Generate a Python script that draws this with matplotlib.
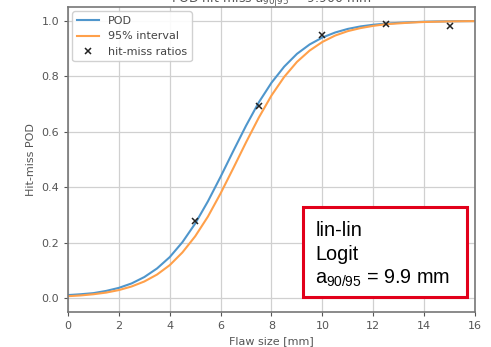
import matplotlib
matplotlib.use("Agg")
import matplotlib.pyplot as plt
from matplotlib.patches import Rectangle

# ── Datos ─────────────────────────────────────────────────────────────────────
flaw_size = [0.0, 0.5, 1.0, 1.5, 2.0, 2.5, 3.0, 3.5, 4.0, 4.5, 5.0, 5.5, 6.0,
             6.5, 7.0, 7.5, 8.0, 8.5, 9.0, 9.5, 10.0, 10.5, 11.0, 11.5, 12.0,
             12.5, 13.0, 13.5, 14.0, 14.5, 15.0, 15.5, 16.0]
pod = [0.011, 0.014, 0.018, 0.026, 0.037, 0.053, 0.076, 0.107, 0.148, 0.202,
       0.269, 0.349, 0.438, 0.531, 0.622, 0.706, 0.777, 0.835, 0.881, 0.915,
       0.940, 0.958, 0.971, 0.980, 0.986, 0.990, 0.993, 0.995, 0.997, 0.998,
       0.9985, 0.999, 0.9993]
pod_95 = [0.007, 0.0097, 0.014, 0.020, 0.029, 0.042, 0.060, 0.085, 0.119,
          0.165, 0.223, 0.294, 0.378, 0.469, 0.562, 0.651, 0.731, 0.798, 0.852,
          0.893, 0.924, 0.947, 0.963, 0.974, 0.982, 0.988, 0.991, 0.994, 0.996,
          0.997, 0.998, 0.9987, 0.9991]
ratio_size = [5.0, 7.5, 10.0, 12.5, 15.0]
ratio_val = [0.278, 0.693, 0.949, 0.989, 0.982]

box_lines = ["lin-lin", "Logit", r"$\mathregular{a_{90/95}}$ = 9.9 mm"]

# ── Figura ────────────────────────────────────────────────────────────────────
fig = plt.figure(figsize=(4.91, 3.47), dpi=100)
ax = fig.add_axes([0.1385, 0.1009, 0.8289, 0.8789])

ax.plot(flaw_size, pod, color="#4f96cc", linewidth=1.5, label="POD")
ax.plot(flaw_size, pod_95, color="#ffa04a", linewidth=1.5, label="95% interval")
ax.plot(ratio_size, ratio_val, "x", color="#222222", markersize=4.5,
        markeredgewidth=1.1, label="hit-miss ratios")

ax.set_xlim(0, 16)
ax.set_ylim(-0.05, 1.05)
ax.set_xticks(range(0, 17, 2))
ax.set_yticks([0.0, 0.2, 0.4, 0.6, 0.8, 1.0])
ax.grid(True, color="#d0d0d0", linewidth=0.9)
ax.tick_params(labelsize=8, colors="#555555", length=3)
for s in ax.spines.values():
    s.set_color("#777777")
    s.set_linewidth(1.2)

ax.set_xlabel("Flaw size [mm]", fontsize=8, color="#555555")
ax.set_ylabel("Hit-miss POD", fontsize=8, color="#555555")

# Título recortado por el borde superior, como en la imagen original
fig.text(0.553, 1 - 3 / 347, r"POD hit-miss $a_{90|95}$ = 9.900 mm",
         fontsize=9, color="#555555", ha="center", va="baseline")

leg = ax.legend(loc="upper left", fontsize=8, framealpha=0.9,
                borderaxespad=0.4, labelcolor="#444444")
leg.get_frame().set_edgecolor("#cccccc")

# Cuadro rojo con el resumen
fig.patches.append(Rectangle((0.617, 0.1441), 0.334, 0.2594,
                             transform=fig.transFigure, facecolor="white",
                             edgecolor="#e2001a", linewidth=2.2, zorder=5))
for line, yb in zip(box_lines, [0.320, 0.251, 0.1816]):
    fig.text(0.642, yb, line, fontsize=14.3, family="Liberation Sans",
             va="baseline", ha="left", color="black", zorder=6)

fig.savefig("out.png", dpi=100)
